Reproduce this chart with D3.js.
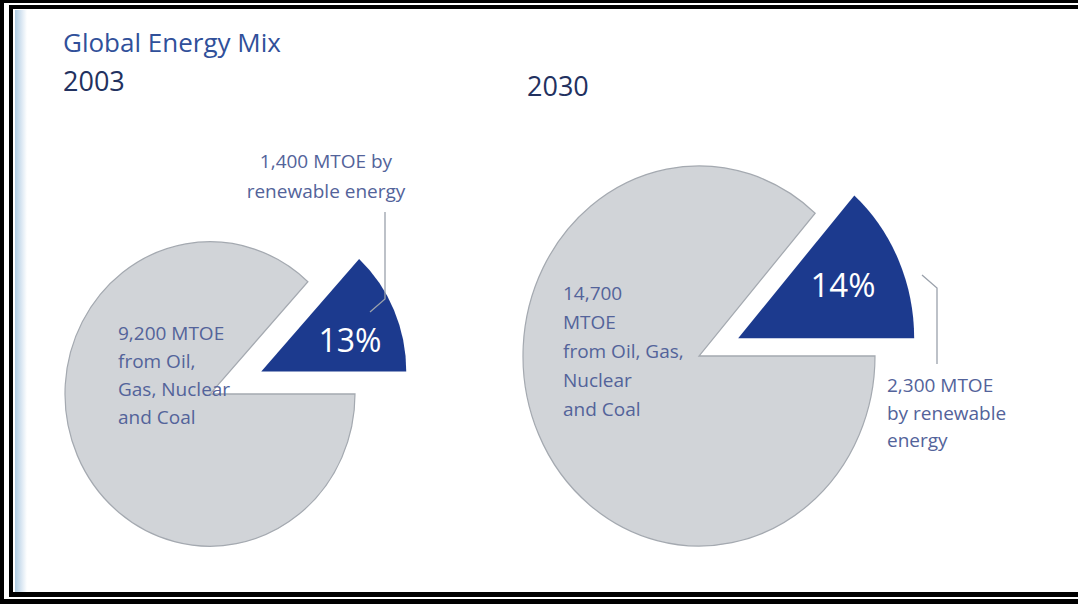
<!DOCTYPE html>
<html>
<head>
<meta charset="utf-8">
<script src="https://cdn.jsdelivr.net/npm/d3@7/dist/d3.min.js"></script>
<style>
  html, body { margin: 0; padding: 0; background: #fff; }
  svg { display: block; }
  text { font-family: "Open Sans", "Noto Sans", sans-serif; }
</style>
</head>
<body>
<svg id="chart" width="1078" height="604"></svg>
<script>
// Energy supply by source, million tonnes of oil equivalent
const years = ["2003", "2030"];
const sources = ["Oil, Gas, Nuclear and Coal", "Renewable energy"];
const conventionalMtoe = [9200, 14700];
const renewableMtoe = [1400, 2300];
const shareLabels = ["13%", "14%"];
const conventionalLabels = [
  ["9,200 MTOE", "from Oil,", "Gas, Nuclear", "and Coal"],
  ["14,700", "MTOE", "from Oil, Gas,", "Nuclear", "and Coal"]
];
const renewableLabels = [
  ["1,400 MTOE by", "renewable energy"],
  ["2,300 MTOE", "by renewable", "energy"]
];

const W = 1078, H = 604;
const svg = d3.select("#chart");

const GREY = "#d1d4d8", GREY_EDGE = "#a4a9b0";
const NAVY = "#1c3a8e";
const LABEL = "#53639a";

// faded blue band along the left edge
const defs = svg.append("defs");
const band = defs.append("linearGradient").attr("id", "band");
band.append("stop").attr("offset", "0%").attr("stop-color", "#aecbe2");
band.append("stop").attr("offset", "60%").attr("stop-color", "#dfeaf4");
band.append("stop").attr("offset", "100%").attr("stop-color", "#ffffff");
svg.append("rect").attr("x", 15).attr("y", 10).attr("width", 12).attr("height", 582)
  .attr("fill", "url(#band)");

// titles
svg.append("text").attr("x", 63).attr("y", 52)
  .attr("font-size", 26).attr("fill", "#30509a").text("Global Energy Mix");

const panels = [
  { cx: 210, cy: 394, explode: 56, yearX: 63, yearY: 91 },
  { cx: 699, cy: 356, explode: 43, yearX: 527, yearY: 96 }
];

const totals = years.map((y, i) => conventionalMtoe[i] + renewableMtoe[i]);
const radius = d3.scaleLinear()
  .domain([totals[0], totals[1]])
  .range([145, 176]);
const stretchY = [1.05, 1.08];

const pie = d3.pie().sort(null)
  .startAngle(Math.PI / 2)
  .endAngle(Math.PI / 2 + 2 * Math.PI);

years.forEach((year, i) => {
  const p = panels[i];
  svg.append("text").attr("x", p.yearX).attr("y", p.yearY)
    .attr("font-size", 27).attr("font-weight", 500).attr("fill", "#22315f").text(year);

  const r = radius(totals[i]);
  const sy = stretchY[i];
  const arcs = pie([conventionalMtoe[i], renewableMtoe[i]]);
  const arc = d3.arc().innerRadius(0).outerRadius(r);

  const g = svg.append("g")
    .attr("transform", `translate(${p.cx},${p.cy}) scale(1,${sy})`);

  arcs.forEach((a, k) => {
    const mid = (a.startAngle + a.endAngle) / 2;
    const off = k === 1 ? p.explode : 0;
    const dx = Math.sin(mid) * off, dy = -Math.cos(mid) * off / sy;
    g.append("path")
      .attr("d", arc(a))
      .attr("transform", `translate(${dx},${dy})`)
      .attr("fill", k === 1 ? NAVY : GREY)
      .attr("stroke", k === 1 ? NAVY : GREY_EDGE)
      .attr("stroke-width", k === 1 ? 0 : 1.2);
  });
});

// labels inside the grey slices
function lines(x, y0, step, arr, size, color, anchor) {
  const t = svg.append("text").attr("font-size", size).attr("fill", color)
    .attr("text-anchor", anchor || "start");
  arr.forEach((s, j) => t.append("tspan").attr("x", x).attr("y", y0 + j * step).text(s));
  return t;
}
lines(118, 340, 28, conventionalLabels[0], 19, LABEL);
lines(563, 300, 29, conventionalLabels[1], 19, LABEL);

// share labels on the renewable slices
svg.append("text").attr("x", 350).attr("y", 352).attr("text-anchor", "middle")
  .attr("font-size", 32).attr("fill", "#ffffff").text(shareLabels[0]);
svg.append("text").attr("x", 843).attr("y", 297).attr("text-anchor", "middle")
  .attr("font-size", 33).attr("fill", "#ffffff").text(shareLabels[1]);

// renewable callouts
lines(326, 168, 30, renewableLabels[0], 19, LABEL, "middle");
lines(887, 392, 27.5, renewableLabels[1], 19, LABEL);

const leader = d3.line();
svg.append("path").attr("d", leader([[385, 212], [385, 299], [370, 312]]))
  .attr("fill", "none").attr("stroke", "#9aa1ab").attr("stroke-width", 1.3);
svg.append("path").attr("d", leader([[922, 275], [937, 288], [937, 364]]))
  .attr("fill", "none").attr("stroke", "#9aa1ab").attr("stroke-width", 1.3);

// double black frame, open on the right
const frame = svg.append("g").attr("fill", "#000");
frame.append("rect").attr("x", 0).attr("y", 0).attr("width", W).attr("height", 3);
frame.append("rect").attr("x", 0).attr("y", 0).attr("width", 4).attr("height", H);
frame.append("rect").attr("x", 0).attr("y", 599).attr("width", W).attr("height", 5);
frame.append("rect").attr("x", 9).attr("y", 5).attr("width", W - 9).attr("height", 4);
frame.append("rect").attr("x", 9).attr("y", 5).attr("width", 4).attr("height", 592);
frame.append("rect").attr("x", 9).attr("y", 592).attr("width", W - 9).attr("height", 5);
</script>
</body>
</html>
